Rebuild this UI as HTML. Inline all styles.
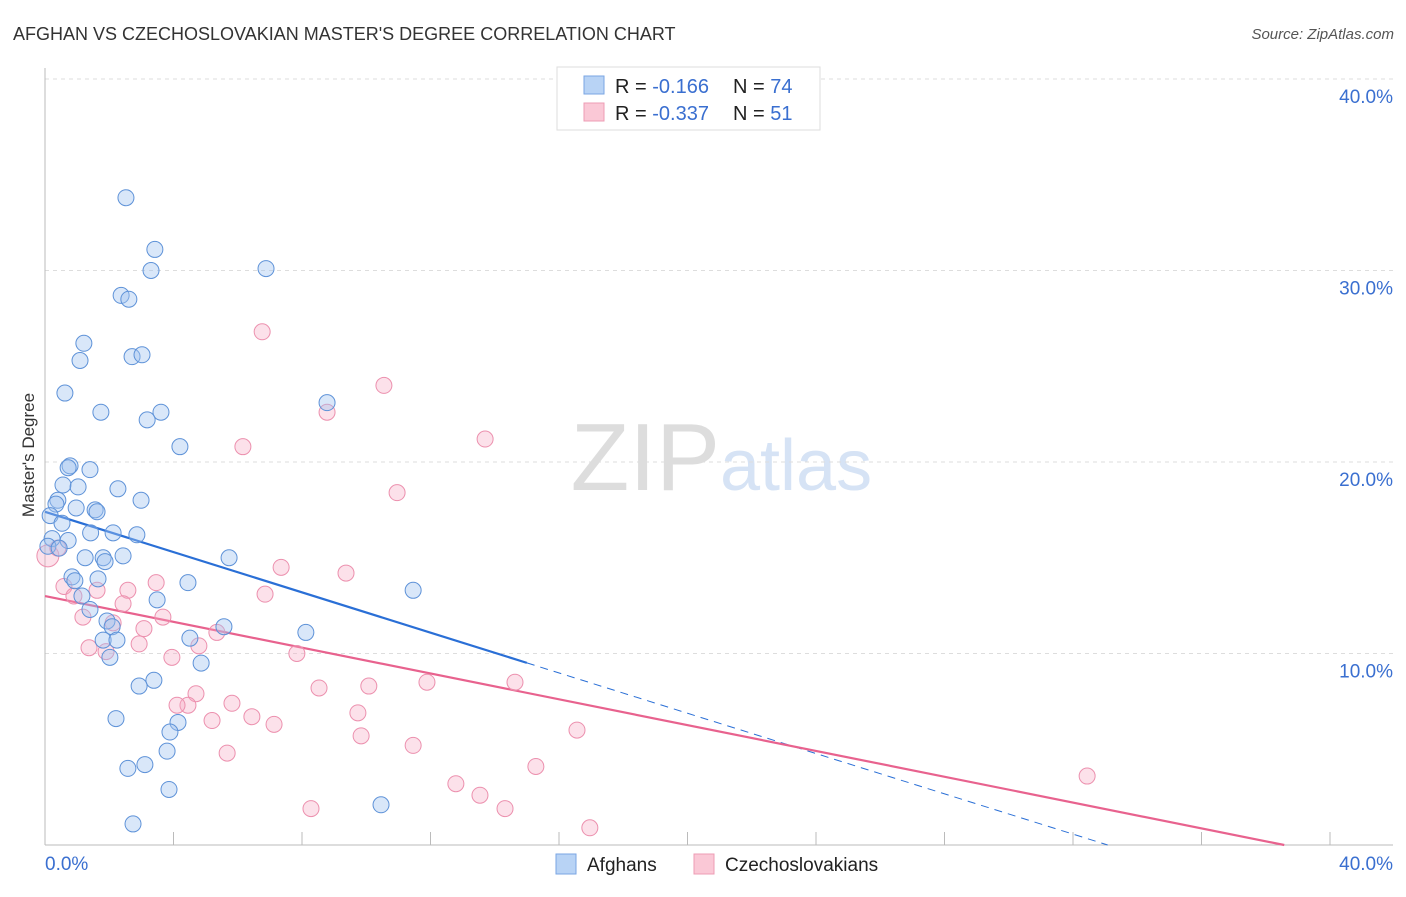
<!DOCTYPE html>
<html><head><meta charset="utf-8"><style>
body{margin:0;background:#fff;font-family:"Liberation Sans",sans-serif}
svg text{font-family:"Liberation Sans",sans-serif}
</style></head><body>
<svg id="c" width="1406" height="892" xmlns="http://www.w3.org/2000/svg">
<text x="13" y="40" font-size="18" fill="#333">AFGHAN VS CZECHOSLOVAKIAN MASTER'S DEGREE CORRELATION CHART</text>
<text x="1394" y="39" font-size="15" fill="#555" font-style="italic" text-anchor="end">Source: ZipAtlas.com</text>
<text x="720" y="490" font-size="96" fill="#ddd" font-family="Liberation Serif" text-anchor="end">ZIP</text>
<text x="720" y="490" font-size="72" fill="#d6e3f5">atlas</text>
<text x="34" y="455" font-size="17" fill="#333" text-anchor="middle" transform="rotate(-90 34 455)">Master's Degree</text>
<g id="grid"></g><g id="lines"></g><g id="pts"></g>
<g>
<rect x="557" y="67" width="263" height="63" fill="#fff" stroke="#ddd"/>
<rect x="584" y="76" width="20" height="18" fill="#b8d3f5" stroke="#7aa6e3"/>
<rect x="584" y="103" width="20" height="18" fill="#fac8d6" stroke="#ee9cb4"/>
<text x="615" y="93" font-size="20" fill="#222">R = <tspan fill="#3a6fd0"> -0.166</tspan><tspan x="733">N = </tspan><tspan fill="#3a6fd0">74</tspan></text>
<text x="615" y="120" font-size="20" fill="#222">R = <tspan fill="#3a6fd0">-0.337</tspan><tspan x="733">N = </tspan><tspan fill="#3a6fd0"> 51</tspan></text>
</g>
<g>
<rect x="556" y="854" width="20" height="20" fill="#b8d3f5" stroke="#7aa6e3"/>
<text x="587" y="871" font-size="19" fill="#222">Afghans</text>
<rect x="694" y="854" width="20" height="20" fill="#fac8d6" stroke="#ee9cb4"/>
<text x="725" y="871" font-size="19" fill="#222">Czechoslovakians</text>
</g>
</svg>
<script>
const blueX=[2.52,3.42,3.30,6.88,2.37,2.61,1.21,1.09,2.71,3.02,0.62,8.78,1.74,3.61,3.18,4.20,0.78,0.72,1.40,0.56,1.03,2.27,0.40,0.34,2.99,0.97,1.56,1.62,0.16,0.53,1.42,2.12,2.86,0.22,0.72,0.09,0.44,1.25,1.81,2.43,1.87,5.73,0.84,1.65,0.93,4.45,11.46,1.15,3.49,1.40,1.93,2.09,5.57,8.12,4.51,1.81,2.24,2.02,4.86,3.39,2.93,2.21,4.14,3.89,3.80,3.11,2.58,3.86,10.46,2.74];
const blueY=[33.8,31.1,30.0,30.1,28.7,28.5,26.2,25.3,25.5,25.6,23.6,23.1,22.6,22.6,22.2,20.8,19.8,19.7,19.6,18.8,18.7,18.6,18.0,17.8,18.0,17.6,17.5,17.4,17.2,16.8,16.3,16.3,16.2,16.0,15.9,15.6,15.5,15.0,15.0,15.1,14.8,15.0,14.0,13.9,13.8,13.7,13.3,13.0,12.8,12.3,11.7,11.4,11.4,11.1,10.8,10.7,10.7,9.8,9.5,8.6,8.3,6.6,6.4,5.9,4.9,4.2,4.0,2.9,2.1,1.1];
const pinkX=[0.09,0.4,6.76,10.55,8.78,13.7,6.16,10.96,7.35,9.37,3.46,0.59,2.58,1.62,6.85,0.90,2.43,3.67,1.18,2.12,3.08,5.35,2.93,4.79,1.37,1.90,7.84,3.95,11.89,14.63,10.08,8.53,4.70,4.45,4.11,5.82,9.74,6.44,5.20,7.13,16.56,9.84,11.46,5.67,15.28,32.44,12.79,13.54,8.28,14.32,16.96];
const pinkY=[15.1,15.5,26.8,24.0,22.6,21.2,20.8,18.4,14.5,14.2,13.7,13.5,13.3,13.3,13.1,13.0,12.6,11.9,11.9,11.6,11.3,11.1,10.5,10.4,10.3,10.1,10.0,9.8,8.5,8.5,8.3,8.2,7.9,7.3,7.3,7.4,6.9,6.7,6.5,6.3,6.0,5.7,5.2,4.8,4.1,3.6,3.2,2.6,1.9,1.9,0.9];
const blueFit=[17.4,-0.526], pinkFit=[13.0,-0.337];
const yTicks=[10,20,30,40];
const X=v=>45+v*32.125, Y=v=>845-v*19.15;
const NS="http://www.w3.org/2000/svg";
function mk(p,t,a){const e=document.createElementNS(NS,t);for(const k in a)e.setAttribute(k,a[k]);p.appendChild(e);return e;}
const g=document.getElementById('grid'),c=document.getElementById('c');
yTicks.forEach(t=>{const l=mk(g,'line',{x1:45,x2:1393,y1:Y(t),y2:Y(t),stroke:'#ddd','stroke-dasharray':'4,4'});


const tx=mk(g,'text',{x:1393,y:Y(t)+24,'font-size':19,fill:'#3a6fd0','text-anchor':'end'});tx.textContent=t.toFixed(1)+'%';

});
mk(g,'line',{x1:45,x2:45,y1:68,y2:845,stroke:'#bbb'});
mk(g,'line',{x1:45,x2:1393,y1:845,y2:845,stroke:'#bbb'});
for(let i=0;i<=10;i++){mk(g,'line',{x1:X(i*4),x2:X(i*4),y1:832,y2:845,stroke:'#bbb'});}
[['0.0%',45,'start'],['40.0%',1393,'end']].forEach(a=>{const t=mk(g,'text',{x:a[1],y:870,'font-size':19,fill:'#3a6fd0','text-anchor':a[2]});t.textContent=a[0];

});
const L=document.getElementById('lines');
function fl(f,x0,x1,col,dash,name){const e=mk(L,'line',{x1:X(x0),y1:Y(f[0]+f[1]*x0),x2:X(x1),y2:Y(f[0]+f[1]*x1),stroke:col,'stroke-width':dash?1:2.2});if(dash)e.setAttribute('stroke-dasharray','8,6');

}
fl(blueFit,0,15,'#2a6fd6',false,'afghans-trend-line');
fl(blueFit,15,-blueFit[0]/blueFit[1],'#2a6fd6',true,'afghans-trend-extension');
fl(pinkFit,0,-pinkFit[0]/pinkFit[1],'#e8628e',false,'czechoslovakians-trend-line');
const P=document.getElementById('pts');
pinkX.forEach((x,i)=>{const e=mk(P,'circle',{cx:X(x),cy:Y(pinkY[i]),r:i==0?11:8,fill:'rgba(246,170,195,0.35)',stroke:'#ec90ae','stroke-width':1});

});
blueX.forEach((x,i)=>{const e=mk(P,'circle',{cx:X(x),cy:Y(blueY[i]),r:8,fill:'rgba(160,195,240,0.4)',stroke:'#5e92d8','stroke-width':1});

});
</script>
</body></html>
